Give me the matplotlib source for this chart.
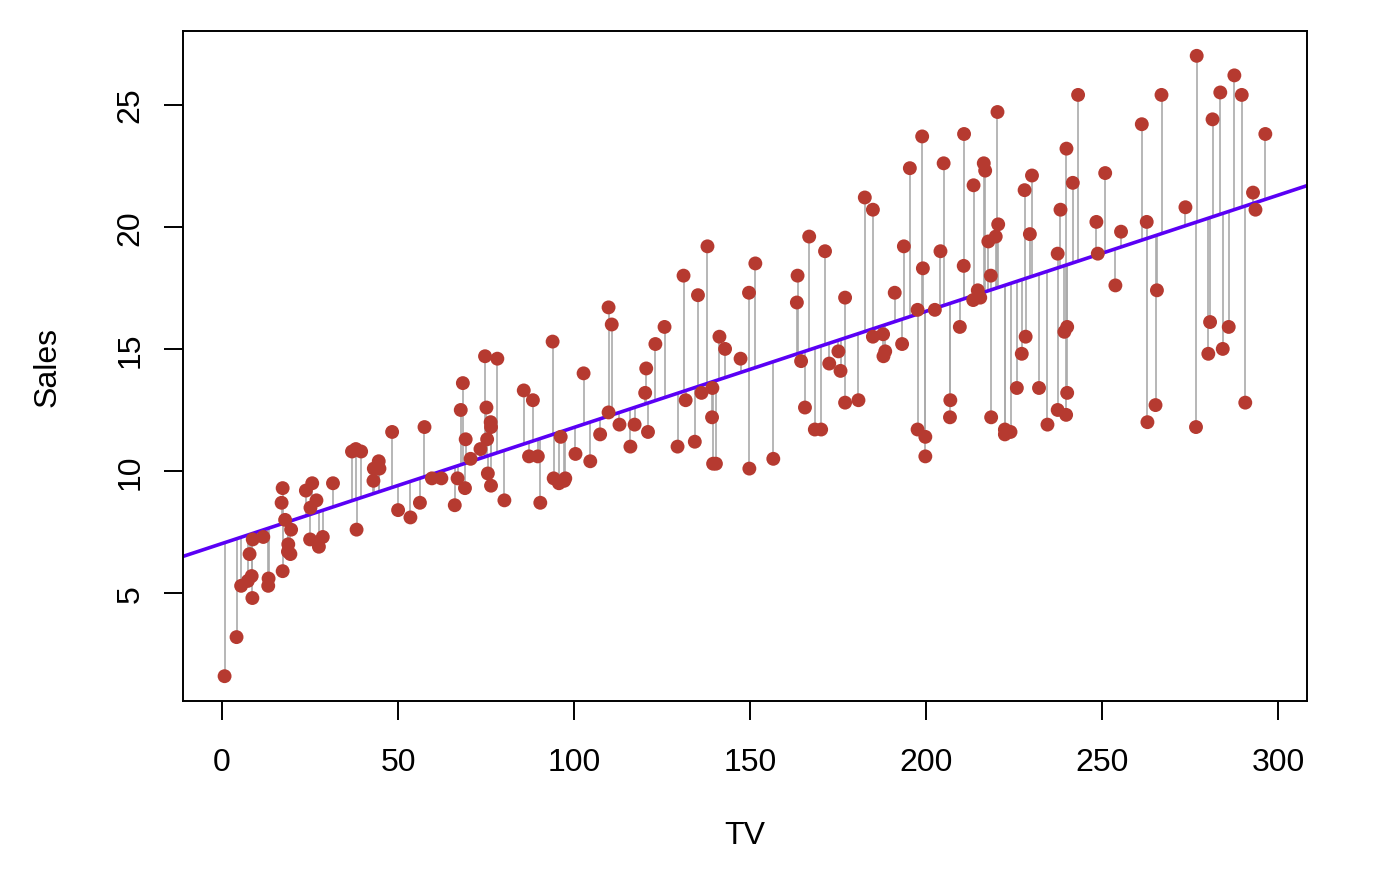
import numpy as np
import matplotlib
matplotlib.use("Agg")
import matplotlib.pyplot as plt

# Advertising data: TV budget and sales
tv = [230.1, 44.5, 17.2, 151.5, 180.8, 8.7, 57.5, 120.2, 8.6, 199.8,
      66.1, 214.7, 23.8, 97.5, 204.1, 195.4, 67.8, 281.4, 69.2, 147.3,
      218.4, 237.4, 13.2, 228.3, 62.3, 262.9, 142.9, 240.1, 248.8, 70.6,
      292.9, 112.9, 97.2, 265.6, 95.7, 290.7, 266.9, 74.7, 43.1, 228.0,
      202.5, 177.0, 293.6, 206.9, 25.1, 175.1, 89.7, 239.9, 227.2, 66.9,
      199.8, 100.4, 216.4, 182.6, 262.7, 198.9, 7.3, 136.2, 210.8, 210.7,
      53.5, 261.3, 239.3, 102.7, 131.1, 69.0, 31.5, 139.3, 237.4, 216.8,
      199.1, 109.8, 26.8, 129.4, 213.4, 16.9, 27.5, 120.5, 5.4, 116.0,
      76.4, 239.8, 75.3, 68.4, 213.5, 193.2, 76.3, 110.7, 88.3, 109.8,
      134.3, 28.6, 217.7, 250.9, 107.4, 163.3, 197.6, 184.9, 289.7, 135.2,
      222.4, 296.4, 280.2, 187.9, 238.2, 137.9, 25.0, 90.4, 13.1, 255.4,
      225.8, 241.7, 175.7, 209.6, 78.2, 75.1, 139.2, 76.4, 125.7, 19.4,
      141.3, 18.8, 224.0, 123.1, 229.5, 87.2, 7.8, 80.2, 220.3, 59.6,
      0.7, 265.2, 8.4, 219.8, 36.9, 48.3, 25.6, 273.7, 43.0, 184.9,
      73.4, 193.7, 220.5, 104.6, 96.2, 140.3, 240.1, 243.2, 38.0, 44.7,
      280.7, 121.0, 197.6, 171.3, 187.8, 4.1, 93.9, 149.8, 11.7, 131.7,
      172.5, 85.7, 188.4, 163.5, 117.2, 234.5, 17.9, 206.8, 215.4, 284.3,
      50.0, 164.5, 19.6, 168.4, 222.4, 276.9, 248.4, 170.2, 276.7, 165.6,
      156.6, 218.5, 56.2, 287.6, 253.8, 205.0, 139.5, 191.1, 286.0, 18.7,
      39.5, 75.5, 17.2, 166.8, 149.7, 38.2, 94.2, 177.0, 283.6, 232.1]
sales = [22.1, 10.4, 9.3, 18.5, 12.9, 7.2, 11.8, 13.2, 4.8, 10.6,
         8.6, 17.4, 9.2, 9.7, 19.0, 22.4, 12.5, 24.4, 11.3, 14.6,
         18.0, 12.5, 5.6, 15.5, 9.7, 12.0, 15.0, 15.9, 18.9, 10.5,
         21.4, 11.9, 9.6, 17.4, 9.5, 12.8, 25.4, 14.7, 10.1, 21.5,
         16.6, 17.1, 20.7, 12.9, 8.5, 14.9, 10.6, 23.2, 14.8, 9.7,
         11.4, 10.7, 22.6, 21.2, 20.2, 23.7, 5.5, 13.2, 23.8, 18.4,
         8.1, 24.2, 15.7, 14.0, 18.0, 9.3, 9.5, 13.4, 18.9, 22.3,
         18.3, 12.4, 8.8, 11.0, 17.0, 8.7, 6.9, 14.2, 5.3, 11.0,
         11.8, 12.3, 11.3, 13.6, 21.7, 15.2, 12.0, 16.0, 12.9, 16.7,
         11.2, 7.3, 19.4, 22.2, 11.5, 16.9, 11.7, 15.5, 25.4, 17.2,
         11.7, 23.8, 14.8, 14.7, 20.7, 19.2, 7.2, 8.7, 5.3, 19.8,
         13.4, 21.8, 14.1, 15.9, 14.6, 12.6, 12.2, 9.4, 15.9, 6.6,
         15.5, 7.0, 11.6, 15.2, 19.7, 10.6, 6.6, 8.8, 24.7, 9.7,
         1.6, 12.7, 5.7, 19.6, 10.8, 11.6, 9.5, 20.8, 9.6, 20.7,
         10.9, 19.2, 20.1, 10.4, 11.4, 10.3, 13.2, 25.4, 10.9, 10.1,
         16.1, 11.6, 16.6, 19.0, 15.6, 3.2, 15.3, 10.1, 7.3, 12.9,
         14.4, 13.3, 14.9, 18.0, 11.9, 11.9, 8.0, 12.2, 17.1, 15.0,
         8.4, 14.5, 7.6, 11.7, 11.5, 27.0, 20.2, 11.7, 11.8, 12.6,
         10.5, 12.2, 8.7, 26.2, 17.6, 22.6, 10.3, 17.3, 15.9, 6.7,
         10.8, 9.9, 5.9, 19.6, 17.3, 7.6, 9.7, 12.8, 25.5, 13.4]

x = np.array(tv)
y = np.array(sales)

# ajuste por minimos cuadrados
slope, intercept = np.polyfit(x, y, 1)
fitted = intercept + slope * x

plt.rcParams['font.family'] = ['Liberation Sans', 'DejaVu Sans']

fig = plt.figure(figsize=(13.87, 8.7), dpi=100)
ax = fig.add_axes([0.1319, 0.1931, 0.8104, 0.7701])

# segmentos de residuos
ax.vlines(x, fitted, y, color='#aaaaaa', linewidth=1.2, zorder=1)

# recta de regresion
xl = np.array([-20, 320])
ax.plot(xl, intercept + slope * xl, color='#5a00f5', linewidth=2.6, zorder=2)

# puntos
ax.scatter(x, y, s=100, color='#b63a30', edgecolors='none', zorder=3)

ax.set_xlim(-11.13, 308.23)
ax.set_ylim(0.584, 28.016)
ax.set_xticks([0, 50, 100, 150, 200, 250, 300])
ax.set_yticks([5, 10, 15, 20, 25])

for s in ax.spines.values():
    s.set_linewidth(1.4)
ax.tick_params(direction='out', length=14, width=1.4, labelsize=23, pad=19)
ax.tick_params(axis='y', labelrotation=90, pad=13)
for lab in ax.get_yticklabels():
    lab.set_va('center')

ax.set_xlabel("TV", fontsize=23, va='center')
ax.xaxis.set_label_coords(0.5, -0.2)
ax.set_ylabel("Sales", fontsize=23, va='center', ha='center')
ax.yaxis.set_label_coords(-0.1201, 0.5)

fig.savefig("out.png", dpi=100)
